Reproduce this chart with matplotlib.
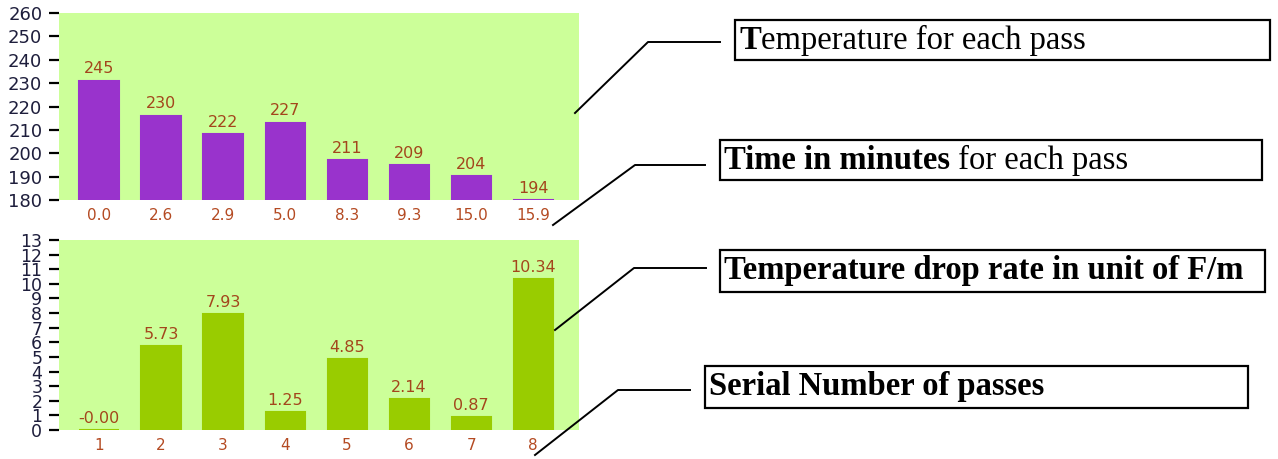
#!/usr/bin/env python3
"""Pass temperature / drop rate bar charts with callout boxes."""

from __future__ import annotations

import matplotlib

matplotlib.use("Agg")
import matplotlib.pyplot as plt
import numpy as np
from matplotlib.lines import Line2D
from matplotlib.offsetbox import AnchoredOffsetbox, HPacker, TextArea
from matplotlib.patches import Rectangle

# top chart: temperature per pass, x labels are elapsed minutes
time_labels = ["0.0", "2.6", "2.9", "5.0", "8.3", "9.3", "15.0", "15.9"]
temperatures = [245, 230, 222, 227, 211, 209, 204, 194]
temp_tick_labels = ["180", "190", "200", "210", "220", "230", "240", "250", "260"]
temp_axis_base = 193.9  # the bars sit on this value although the axis reads 180

# bottom chart: drop rate per pass
pass_labels = ["1", "2", "3", "4", "5", "6", "7", "8"]
drop_rates = [-0.00, 5.73, 7.93, 1.25, 4.85, 2.14, 0.87, 10.34]
rate_ticks = list(range(0, 14))

W, H = 1278, 459
BG = "#ccff99"
PURPLE = "#9933cc"
GREEN = "#99cc00"
VALUE_COLOR = "#a3461c"
XTICK_COLOR = "#b44a22"
YTICK_COLOR = "#1e1e3c"


def px_axes(fig, left, top, right, bottom):
    return fig.add_axes([left / W, 1 - bottom / H, (right - left) / W, (bottom - top) / H])


def style_axes(ax, ylabelsize):
    ax.set_facecolor(BG)
    for spine in ax.spines.values():
        spine.set_visible(False)
    ax.tick_params(axis="y", length=7, width=1.6, color="black", pad=5,
                   labelsize=ylabelsize, labelcolor=YTICK_COLOR)
    ax.tick_params(axis="x", length=0, pad=6, labelsize=11, labelcolor=XTICK_COLOR)
    ax.set_xlim(-0.645, 7.74)


def bar_labels(ax, bars, texts):
    for bar, text in zip(bars, texts):
        ax.annotate(text, (bar.get_x() + bar.get_width() / 2, bar.get_height()),
                    xytext=(0, 3), textcoords="offset points", ha="center", va="bottom",
                    fontsize=11.5, color=VALUE_COLOR)


def callout(fig, box, elbow, tip, line_end, parts):
    x0, y0, x1, y1 = box
    fig.add_artist(Rectangle((x0 / W, 1 - y1 / H), (x1 - x0) / W, (y1 - y0) / H,
                             transform=fig.transFigure, fill=False, lw=1.6, ec="black"))
    xs = [tip[0] / W, elbow[0] / W, line_end / W]
    ys = [1 - tip[1] / H, 1 - elbow[1] / H, 1 - elbow[1] / H]
    fig.add_artist(Line2D(xs, ys, transform=fig.transFigure, color="black", lw=1.4))
    areas = [TextArea(text, textprops=dict(family="Liberation Serif", size=23.5,
                                           weight=weight, color="black"))
             for text, weight in parts]
    pack = HPacker(children=areas, pad=0, sep=0, align="baseline")
    anchored = AnchoredOffsetbox(loc="center left", child=pack, frameon=False, pad=0,
                                 borderpad=0,
                                 bbox_to_anchor=((x0 + 4) / W, 1 - (y0 + y1) / 2 / H),
                                 bbox_transform=fig.transFigure)
    fig.add_artist(anchored)


def main() -> int:
    fig = plt.figure(figsize=(W / 100, H / 100), dpi=100)
    x = np.arange(len(time_labels))

    ax1 = px_axes(fig, 59, 13, 579, 200)
    style_axes(ax1, 13)
    bars1 = ax1.bar(x, temperatures, width=0.63, color=PURPLE, edgecolor=PURPLE, lw=1.5)
    ax1.set_ylim(temp_axis_base, temp_axis_base + 80)
    ax1.set_yticks([temp_axis_base + 10 * i for i in range(len(temp_tick_labels))])
    ax1.set_yticklabels(temp_tick_labels)
    ax1.set_xticks(x)
    ax1.set_xticklabels(time_labels)
    bar_labels(ax1, bars1, [str(v) for v in temperatures])

    ax2 = px_axes(fig, 59, 240, 579, 430)
    style_axes(ax2, 12.5)
    bars2 = ax2.bar(x, drop_rates, width=0.63, color=GREEN, edgecolor=GREEN, lw=1.5)
    ax2.set_ylim(0, 13)
    ax2.set_yticks(rate_ticks)
    ax2.set_yticklabels([str(t) for t in rate_ticks])
    ax2.set_xticks(x)
    ax2.set_xticklabels(pass_labels)
    bar_labels(ax2, bars2, [f"{v:.2f}" for v in drop_rates])

    callout(fig, (735, 20, 1270, 60), (648, 42), (575, 113), 720,
            [("T", "bold"), ("emperature for each pass", "normal")])
    callout(fig, (720, 140, 1262, 180), (635, 165), (553, 225), 705,
            [("Time in minutes", "bold"), (" for each pass", "normal")])
    callout(fig, (720, 250, 1265, 292), (634, 268), (555, 330), 706,
            [("Temperature drop rate in unit of F/m", "bold")])
    callout(fig, (705, 366, 1248, 408), (618, 390), (535, 455), 690,
            [("Serial Number of passes", "bold")])

    fig.savefig("out.png", dpi=100)
    plt.close(fig)
    return 0


if __name__ == "__main__":
    raise SystemExit(main())
